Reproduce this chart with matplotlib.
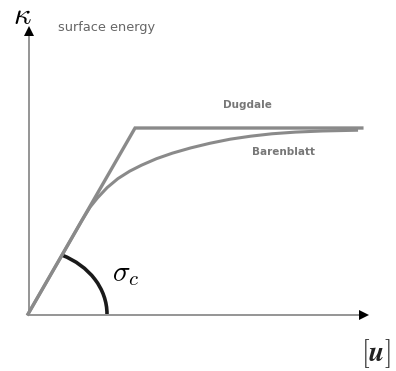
import numpy as np
import matplotlib
matplotlib.use("Agg")
from matplotlib import pyplot as plt
from matplotlib.patches import Arc

plt.rcParams["mathtext.fontset"] = "cm"

# Dugdale model: linear rise then constant
dugdale_u = [0.0, 1.0, 3.12]
dugdale_k = [0.0, 1.0, 1.0]

# Barenblatt model
barenblatt_u = [0.0, 0.318, 0.50, 0.58, 0.65, 0.74, 0.84, 0.95, 1.06, 1.20,
                1.35, 1.52, 1.70, 1.89, 2.08, 2.28, 2.50, 2.75, 3.07]
barenblatt_k = [0.0, 0.317, 0.50, 0.575, 0.625, 0.68, 0.728, 0.768, 0.80, 0.835,
                0.865, 0.893, 0.918, 0.940, 0.956, 0.969, 0.978, 0.984, 0.988]

u_axis_end = 3.17
k_axis_end = 1.54
arc_rx = 0.738
arc_ry = 0.351

curve_color = "#8a8a8a"
axis_color = "#959595"
label_color = "#777777"

fig = plt.figure(figsize=(3.96, 3.71), dpi=100)
ax = fig.add_axes([0, 0, 1, 1])
ax.set_xlim(-0.262, 3.439)
ax.set_ylim(-0.306, 1.688)
ax.axis("off")

# axes with arrow heads
ax.plot([0.0, u_axis_end - 0.04], [-0.005, -0.005], color=axis_color, lw=1.4, solid_capstyle="butt")
ax.plot([0.012, 0.012], [0.0, k_axis_end - 0.03], color=axis_color, lw=1.4, solid_capstyle="butt")
ax.plot([u_axis_end - 0.03], [-0.005], marker=">", color="black", markersize=7, markeredgewidth=0)
ax.plot([0.012], [k_axis_end - 0.02], marker="^", color="black", markersize=7, markeredgewidth=0)

# curves
ax.plot(dugdale_u, dugdale_k, color=curve_color, lw=2.4, solid_joinstyle="miter")
ax.plot(barenblatt_u, barenblatt_k, color=curve_color, lw=2.2, solid_joinstyle="round")

# angle arc between u-axis and the initial slope
slope_angle = np.degrees(np.arctan2(dugdale_k[1], dugdale_u[1]))
ax.add_patch(Arc((0, 0), 2 * arc_rx, 2 * arc_ry, theta1=0, theta2=slope_angle,
                 color="#1a1a1a", lw=2.6))

# labels
ax.text(-0.055, 1.558, r"$\kappa$", fontsize=22, ha="center", va="baseline")
ax.text(0.28, 1.54, "surface energy", fontsize=9.3, color="#666666", ha="left", va="center")
ax.text(2.05, 1.124, "Dugdale", fontsize=7.5, fontweight="bold", color=label_color,
        ha="center", va="center")
ax.text(2.39, 0.871, "Barenblatt", fontsize=7.5, fontweight="bold", color=label_color,
        ha="center", va="center")
ax.text(0.91, 0.215, r"$\sigma_c$", fontsize=21, ha="center", va="center")
ax.text(3.25, -0.215, r"$[\boldsymbol{u}]$", fontsize=20, ha="center", va="center",
        color="#222222")

fig.savefig("out.png", dpi=100)
